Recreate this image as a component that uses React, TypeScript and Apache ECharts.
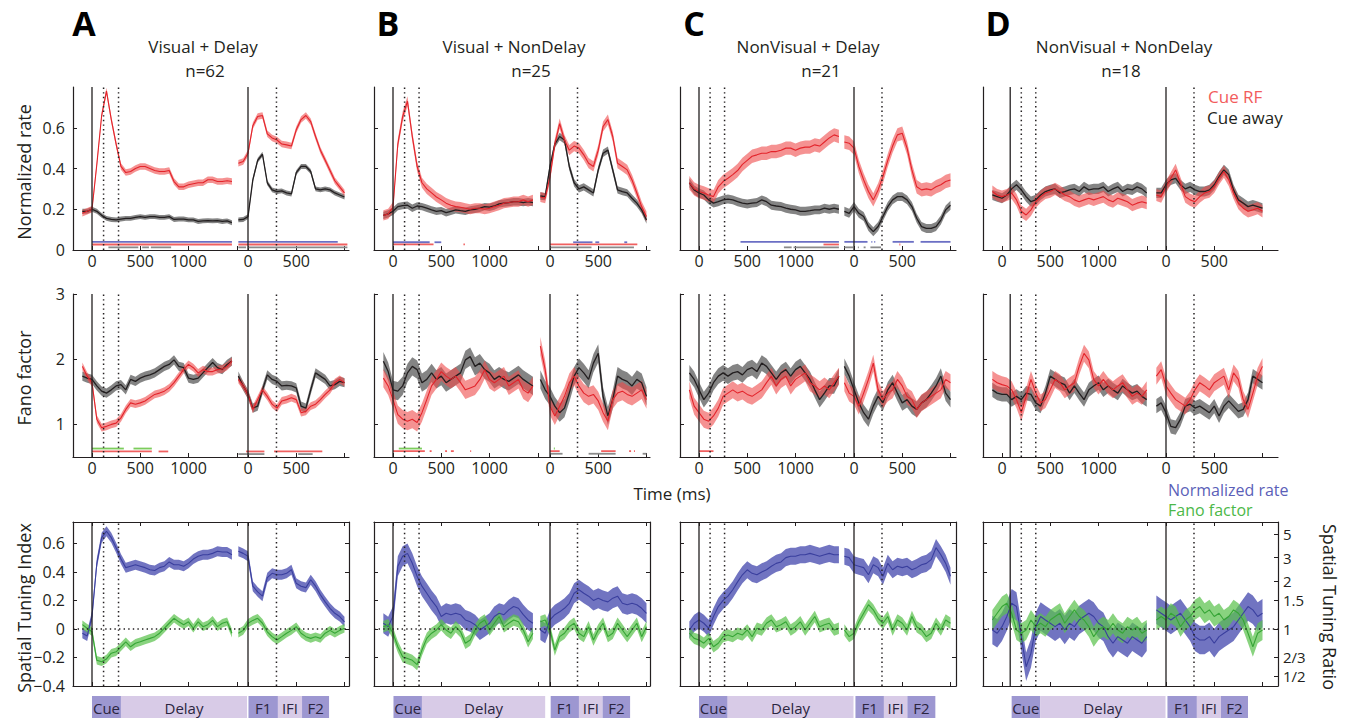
import React, { useEffect, useRef } from "react";
import * as echarts from "echarts";

const FONT = "'Open Sans', 'DejaVu Sans', sans-serif";

// ---------- time grids (ms) ----------
const T_L = [-100, -50, 0, 50, 100, 150, 200, 250, 300, 350, 400, 450, 500, 550, 600, 650, 700, 750, 800, 850, 900, 950, 1000, 1050, 1100, 1150, 1200, 1250, 1300, 1350, 1400, 1450];
const T_L_D = [-100, -50, 0, 50, 100, 150, 200, 250, 300, 350, 400, 450, 500, 550, 600, 650, 700, 750, 800, 850, 900, 950, 1000, 1050, 1100, 1150, 1200, 1250, 1300, 1350, 1400, 1450, 1500];
const T_R = [-100, -50, 0, 50, 100, 150, 200, 250, 300, 350, 400, 450, 500, 550, 600, 650, 700, 750, 800, 850, 900, 950, 1000];

// ---------- A: Visual + Delay ----------
const A_RATE_RED_L = [0.18, 0.19, 0.20, 0.42, 0.66, 0.78, 0.64, 0.52, 0.41, 0.38, 0.385, 0.40, 0.41, 0.41, 0.40, 0.39, 0.385, 0.385, 0.39, 0.336, 0.31, 0.31, 0.32, 0.325, 0.33, 0.33, 0.345, 0.345, 0.336, 0.336, 0.34, 0.336];
const A_RATE_RED_R = [0.426, 0.434, 0.475, 0.61, 0.655, 0.66, 0.57, 0.55, 0.54, 0.52, 0.516, 0.51, 0.59, 0.64, 0.66, 0.63, 0.557, 0.49, 0.44, 0.39, 0.34, 0.31, 0.28];
const A_RATE_BLK_L = [0.19, 0.19, 0.20, 0.19, 0.17, 0.155, 0.15, 0.148, 0.152, 0.155, 0.155, 0.16, 0.164, 0.16, 0.164, 0.164, 0.16, 0.16, 0.164, 0.15, 0.152, 0.152, 0.148, 0.148, 0.14, 0.143, 0.144, 0.143, 0.144, 0.14, 0.143, 0.134];
const A_RATE_BLK_R = [0.148, 0.15, 0.164, 0.344, 0.44, 0.47, 0.33, 0.295, 0.287, 0.29, 0.28, 0.275, 0.38, 0.41, 0.41, 0.385, 0.30, 0.295, 0.30, 0.295, 0.28, 0.27, 0.26];
const A_FANO_RED_L = [1.89, 1.74, 1.64, 1.08, 0.95, 0.97, 1.0, 1.02, 1.10, 1.23, 1.33, 1.31, 1.33, 1.36, 1.41, 1.46, 1.48, 1.51, 1.56, 1.64, 1.74, 1.84, 1.92, 1.87, 1.79, 1.84, 1.81, 1.81, 1.84, 1.85, 1.89, 1.97];
const A_FANO_RED_R = [1.69, 1.59, 1.46, 1.23, 1.38, 1.53, 1.43, 1.31, 1.25, 1.36, 1.38, 1.41, 1.38, 1.18, 1.20, 1.28, 1.31, 1.38, 1.46, 1.53, 1.64, 1.69, 1.64];
const A_FANO_BLK_L = [1.74, 1.71, 1.69, 1.59, 1.51, 1.48, 1.53, 1.59, 1.61, 1.53, 1.69, 1.66, 1.71, 1.74, 1.76, 1.79, 1.84, 1.89, 1.92, 1.99, 1.89, 1.87, 1.71, 1.69, 1.71, 1.79, 1.87, 1.95, 1.87, 1.84, 1.92, 1.97];
const A_FANO_BLK_R = [1.74, 1.59, 1.46, 1.25, 1.28, 1.53, 1.76, 1.69, 1.66, 1.59, 1.60, 1.59, 1.56, 1.28, 1.25, 1.53, 1.79, 1.74, 1.69, 1.59, 1.61, 1.66, 1.64];
const A_STI_BLUE_L = [-0.03, -0.05, 0.09, 0.46, 0.64, 0.685, 0.64, 0.57, 0.49, 0.43, 0.44, 0.45, 0.44, 0.43, 0.415, 0.41, 0.43, 0.44, 0.47, 0.45, 0.45, 0.44, 0.46, 0.49, 0.51, 0.52, 0.52, 0.53, 0.545, 0.54, 0.54, 0.52];
const A_STI_BLUE_R = [0.545, 0.53, 0.51, 0.30, 0.26, 0.23, 0.36, 0.39, 0.38, 0.38, 0.39, 0.415, 0.32, 0.30, 0.29, 0.345, 0.30, 0.24, 0.19, 0.145, 0.11, 0.087, 0.05];
const A_STI_GREEN_L = [0.03, 0.005, -0.02, -0.22, -0.23, -0.21, -0.17, -0.16, -0.125, -0.09, -0.125, -0.10, -0.09, -0.077, -0.066, -0.054, -0.03, 0.005, 0.04, 0.075, 0.05, 0.03, 0.05, 0.005, 0.05, 0.016, 0.03, 0.06, 0.016, 0.04, 0.05, -0.03];
const A_STI_GREEN_R = [-0.03, -0.01, 0.04, 0.06, 0.075, 0.04, -0.02, -0.054, -0.077, -0.054, -0.03, -0.01, 0.016, -0.03, -0.054, -0.066, -0.054, -0.066, -0.03, -0.01, -0.03, -0.01, 0.005];

// ---------- B: Visual + NonDelay ----------
const B_RATE_RED_L = [0.17, 0.177, 0.21, 0.52, 0.655, 0.73, 0.557, 0.41, 0.33, 0.30, 0.28, 0.26, 0.246, 0.23, 0.22, 0.213, 0.21, 0.205, 0.20, 0.205, 0.205, 0.20, 0.205, 0.213, 0.22, 0.23, 0.233, 0.237, 0.237, 0.246, 0.237, 0.246];
const B_RATE_RED_R = [0.26, 0.254, 0.36, 0.52, 0.62, 0.54, 0.49, 0.51, 0.50, 0.467, 0.426, 0.41, 0.49, 0.606, 0.64, 0.557, 0.426, 0.41, 0.393, 0.344, 0.28, 0.213, 0.164];
const B_RATE_BLK_L = [0.17, 0.177, 0.19, 0.213, 0.218, 0.22, 0.205, 0.216, 0.213, 0.205, 0.197, 0.19, 0.193, 0.183, 0.19, 0.197, 0.193, 0.19, 0.197, 0.20, 0.205, 0.213, 0.21, 0.216, 0.226, 0.23, 0.233, 0.237, 0.237, 0.233, 0.237, 0.233];
const B_RATE_BLK_R = [0.265, 0.262, 0.41, 0.52, 0.557, 0.54, 0.41, 0.33, 0.30, 0.31, 0.295, 0.28, 0.393, 0.475, 0.49, 0.393, 0.295, 0.287, 0.28, 0.254, 0.23, 0.197, 0.147];
const B_FANO_RED_L = [1.71, 1.59, 1.38, 1.15, 1.08, 1.05, 1.08, 1.03, 1.18, 1.38, 1.59, 1.69, 1.81, 1.74, 1.69, 1.74, 1.64, 1.53, 1.56, 1.59, 1.69, 1.84, 1.69, 1.64, 1.69, 1.74, 1.59, 1.64, 1.69, 1.53, 1.48, 1.59];
const B_FANO_RED_R = [2.20, 1.84, 1.28, 1.13, 1.28, 1.43, 1.64, 1.74, 1.59, 1.48, 1.43, 1.46, 1.36, 1.18, 1.05, 1.38, 1.48, 1.51, 1.46, 1.43, 1.48, 1.53, 1.38];
const B_FANO_BLK_L = [1.97, 1.81, 1.53, 1.51, 1.59, 1.79, 1.89, 1.84, 1.64, 1.69, 1.79, 1.69, 1.74, 1.64, 1.69, 1.74, 1.79, 1.99, 2.04, 1.89, 1.94, 1.84, 1.79, 1.69, 1.74, 1.69, 1.66, 1.71, 1.76, 1.69, 1.64, 1.59];
const B_FANO_BLK_R = [1.69, 1.53, 1.43, 1.28, 1.18, 1.25, 1.48, 1.74, 1.87, 1.79, 1.69, 1.94, 2.09, 1.43, 1.13, 1.38, 1.74, 1.69, 1.66, 1.59, 1.69, 1.64, 1.43];
const B_STI_BLUE_L = [0.04, 0.016, 0.09, 0.44, 0.51, 0.53, 0.46, 0.37, 0.30, 0.25, 0.20, 0.157, 0.087, 0.11, 0.10, 0.11, 0.10, 0.063, 0.05, 0.03, -0.007, 0.016, 0.04, 0.087, 0.11, 0.10, 0.134, 0.157, 0.145, 0.10, 0.063, 0.04];
const B_STI_BLUE_R = [-0.007, -0.03, 0.063, 0.10, 0.12, 0.145, 0.18, 0.25, 0.275, 0.25, 0.23, 0.20, 0.216, 0.20, 0.19, 0.216, 0.23, 0.18, 0.17, 0.18, 0.17, 0.145, 0.11];
const B_STI_GREEN_L = [0.016, 0.03, -0.03, -0.125, -0.195, -0.207, -0.22, -0.25, -0.148, -0.066, -0.03, -0.007, 0.03, -0.007, -0.03, 0.016, -0.02, -0.10, -0.077, -0.007, 0.04, 0.063, -0.007, 0.04, 0.087, 0.016, 0.04, 0.063, 0.05, -0.007, -0.09, -0.03];
const B_STI_GREEN_R = [0.05, 0.063, -0.007, -0.148, -0.054, -0.03, 0.016, 0.04, -0.03, -0.054, 0.016, -0.077, -0.007, 0.04, -0.054, -0.03, 0.04, -0.007, -0.054, -0.007, 0.04, -0.054, 0.016];

// ---------- C: NonVisual + Delay ----------
const C_RATE_RED_L = [0.33, 0.30, 0.287, 0.28, 0.27, 0.262, 0.31, 0.336, 0.352, 0.37, 0.39, 0.42, 0.44, 0.46, 0.467, 0.475, 0.475, 0.483, 0.483, 0.49, 0.50, 0.50, 0.49, 0.50, 0.505, 0.505, 0.516, 0.51, 0.53, 0.55, 0.565, 0.557];
const C_RATE_RED_R = [0.53, 0.524, 0.50, 0.41, 0.344, 0.287, 0.246, 0.295, 0.36, 0.44, 0.51, 0.565, 0.573, 0.50, 0.393, 0.31, 0.295, 0.30, 0.295, 0.31, 0.32, 0.336, 0.344];
const C_RATE_BLK_L = [0.33, 0.295, 0.28, 0.27, 0.246, 0.23, 0.237, 0.246, 0.25, 0.246, 0.237, 0.23, 0.226, 0.23, 0.233, 0.246, 0.237, 0.22, 0.216, 0.213, 0.205, 0.20, 0.197, 0.19, 0.19, 0.193, 0.197, 0.197, 0.205, 0.20, 0.205, 0.20];
const C_RATE_BLK_R = [0.19, 0.18, 0.213, 0.18, 0.164, 0.115, 0.09, 0.115, 0.164, 0.213, 0.246, 0.262, 0.262, 0.246, 0.213, 0.156, 0.115, 0.106, 0.106, 0.115, 0.147, 0.197, 0.22];
const C_FANO_RED_L = [1.53, 1.28, 1.18, 1.08, 1.05, 1.13, 1.25, 1.43, 1.48, 1.53, 1.48, 1.51, 1.46, 1.43, 1.48, 1.53, 1.64, 1.74, 1.59, 1.69, 1.74, 1.59, 1.69, 1.74, 1.79, 1.64, 1.59, 1.53, 1.59, 1.53, 1.64, 1.74];
const C_FANO_RED_R = [1.64, 1.48, 1.43, 1.28, 1.48, 1.69, 1.94, 1.53, 1.38, 1.48, 1.53, 1.69, 1.59, 1.43, 1.38, 1.23, 1.33, 1.38, 1.43, 1.48, 1.53, 1.69, 1.64];
const C_FANO_BLK_L = [1.79, 1.69, 1.53, 1.38, 1.48, 1.64, 1.74, 1.79, 1.74, 1.79, 1.81, 1.76, 1.84, 1.87, 1.81, 1.94, 1.89, 1.79, 1.69, 1.79, 1.84, 1.74, 1.84, 1.89, 1.79, 1.69, 1.53, 1.38, 1.48, 1.59, 1.59, 1.74];
const C_FANO_BLK_R = [1.89, 1.74, 1.53, 1.33, 1.18, 1.08, 1.28, 1.43, 1.33, 1.53, 1.64, 1.48, 1.33, 1.38, 1.28, 1.23, 1.33, 1.38, 1.48, 1.59, 1.74, 1.48, 1.38];
const C_STI_BLUE_L = [-0.007, 0.04, 0.063, 0.04, 0.005, 0.087, 0.157, 0.20, 0.23, 0.275, 0.33, 0.38, 0.415, 0.39, 0.38, 0.40, 0.415, 0.44, 0.46, 0.47, 0.50, 0.51, 0.51, 0.52, 0.52, 0.53, 0.52, 0.51, 0.52, 0.53, 0.52, 0.52];
const C_STI_BLUE_R = [0.51, 0.50, 0.45, 0.44, 0.43, 0.38, 0.45, 0.43, 0.37, 0.46, 0.415, 0.44, 0.43, 0.44, 0.415, 0.43, 0.45, 0.46, 0.486, 0.57, 0.52, 0.46, 0.37];
const C_STI_GREEN_L = [-0.03, -0.066, -0.077, -0.10, -0.066, -0.125, -0.10, -0.054, -0.042, -0.054, -0.03, -0.042, -0.007, -0.054, 0.005, -0.007, 0.04, 0.063, 0.016, 0.03, 0.05, -0.007, 0.016, 0.05, -0.007, 0.04, 0.087, 0.016, 0.03, 0.04, -0.007, 0.005];
const C_STI_GREEN_R = [-0.007, -0.054, -0.03, 0.05, 0.11, 0.17, 0.134, 0.075, 0.04, 0.087, -0.007, 0.063, 0.04, -0.007, 0.087, 0.016, -0.007, -0.054, -0.03, 0.04, -0.007, 0.063, 0.04];

// ---------- D: NonVisual + NonDelay ----------
const D_RATE_RED_L = [0.287, 0.27, 0.262, 0.27, 0.28, 0.246, 0.19, 0.172, 0.197, 0.237, 0.262, 0.28, 0.287, 0.30, 0.287, 0.27, 0.262, 0.246, 0.237, 0.246, 0.254, 0.246, 0.254, 0.262, 0.246, 0.237, 0.254, 0.246, 0.237, 0.22, 0.23, 0.237, 0.23];
const D_RATE_RED_R = [0.27, 0.262, 0.31, 0.352, 0.393, 0.327, 0.262, 0.246, 0.237, 0.262, 0.28, 0.287, 0.31, 0.352, 0.385, 0.344, 0.28, 0.23, 0.205, 0.19, 0.197, 0.205, 0.19];
const D_RATE_BLK_L = [0.27, 0.262, 0.254, 0.27, 0.30, 0.32, 0.295, 0.262, 0.237, 0.246, 0.27, 0.287, 0.295, 0.30, 0.28, 0.287, 0.295, 0.30, 0.287, 0.31, 0.295, 0.30, 0.30, 0.31, 0.287, 0.30, 0.31, 0.287, 0.30, 0.295, 0.31, 0.30, 0.28];
const D_RATE_BLK_R = [0.28, 0.28, 0.32, 0.344, 0.352, 0.32, 0.30, 0.31, 0.295, 0.287, 0.287, 0.295, 0.32, 0.36, 0.393, 0.37, 0.295, 0.246, 0.23, 0.213, 0.22, 0.213, 0.205];
const D_FANO_RED_L = [1.69, 1.64, 1.61, 1.59, 1.53, 1.38, 1.18, 1.43, 1.69, 1.48, 1.33, 1.38, 1.53, 1.69, 1.64, 1.53, 1.59, 1.64, 1.89, 2.09, 1.99, 1.69, 1.59, 1.69, 1.59, 1.53, 1.59, 1.64, 1.53, 1.43, 1.48, 1.43, 1.53];
const D_FANO_RED_R = [1.74, 1.84, 1.59, 1.48, 1.38, 1.33, 1.28, 1.38, 1.53, 1.64, 1.59, 1.53, 1.64, 1.69, 1.74, 1.53, 1.79, 1.69, 1.38, 1.23, 1.48, 1.74, 1.89];
const D_FANO_BLK_L = [1.53, 1.48, 1.46, 1.46, 1.38, 1.43, 1.38, 1.48, 1.46, 1.33, 1.28, 1.48, 1.74, 1.69, 1.64, 1.61, 1.48, 1.59, 1.48, 1.38, 1.53, 1.59, 1.64, 1.53, 1.59, 1.53, 1.48, 1.59, 1.53, 1.48, 1.51, 1.43, 1.38];
const D_FANO_BLK_R = [1.28, 1.33, 1.18, 0.97, 0.95, 1.08, 1.28, 1.31, 1.25, 1.28, 1.23, 1.18, 1.28, 1.13, 1.28, 1.36, 1.28, 1.20, 1.23, 1.38, 1.74, 1.69, 1.64];
const D_STI_BLUE_L = [-0.007, -0.03, 0.016, 0.087, 0.18, 0.157, -0.054, -0.265, -0.17, 0.016, 0.087, 0.063, 0.04, 0.016, 0.04, -0.007, 0.04, 0.016, 0.063, 0.087, 0.11, 0.087, 0.04, 0.016, -0.054, -0.10, -0.054, -0.077, -0.10, -0.054, -0.077, -0.10, -0.054];
const D_STI_BLUE_R = [0.134, 0.11, 0.087, 0.063, 0.087, 0.11, 0.063, 0.016, -0.054, -0.077, -0.077, -0.054, -0.10, -0.054, -0.03, -0.007, 0.016, 0.063, 0.11, 0.157, 0.134, 0.087, 0.11];
const D_STI_GREEN_L = [0.063, 0.11, 0.157, 0.18, 0.11, -0.007, -0.03, -0.007, 0.063, 0.016, 0.04, 0.016, 0.063, 0.087, 0.11, 0.04, 0.087, 0.134, 0.087, 0.063, 0.016, -0.054, -0.007, 0.016, -0.007, 0.04, -0.007, -0.03, 0.016, -0.007, 0.016, -0.03, -0.007];
const D_STI_GREEN_R = [0.063, 0.087, 0.063, 0.11, 0.087, 0.016, 0.063, 0.087, 0.134, 0.157, 0.11, 0.134, 0.087, 0.11, 0.063, 0.087, 0.134, 0.11, 0.063, -0.03, -0.125, -0.03, -0.007];

// half-widths of the shaded error bands, per column: [red, black] / [blue, green]
const SE_RATE = [[0.016, 0.012], [0.025, 0.018], [0.033, 0.022], [0.03, 0.025]];
const SE_FANO = [[0.06, 0.07], [0.14, 0.14], [0.13, 0.12], [0.13, 0.11]];
const SE_STI = [[0.035, 0.03], [0.07, 0.04], [0.06, 0.04], [0.1, 0.07]];

// significance bars: [segment, colour, y, t1, t2]
const SIG_RATE = [
  [["L", "b", 0.04, 0, 1450], ["R", "b", 0.04, -100, 930], ["L", "r", 0.027, 0, 1450], ["R", "r", 0.027, -100, 1030], ["L", "k", 0.013, 170, 480], ["L", "k", 0.013, 520, 590], ["L", "k", 0.013, 610, 820], ["R", "k", 0.013, -100, -20], ["R", "k", 0.013, 0, 1030]],
  [["L", "b", 0.038, 0, 380], ["L", "b", 0.038, 430, 500], ["R", "b", 0.038, 240, 440], ["R", "b", 0.038, 470, 510], ["R", "b", 0.038, 770, 800], ["L", "r", 0.028, 0, 420], ["L", "r", 0.028, 730, 745], ["R", "r", 0.028, 0, 905], ["R", "k", 0.013, 0, 430], ["R", "k", 0.013, 510, 870]],
  [["L", "b", 0.04, 430, 1450], ["R", "b", 0.04, -100, 140], ["R", "b", 0.04, 180, 190], ["R", "b", 0.04, 210, 220], ["R", "b", 0.04, 400, 620], ["R", "b", 0.04, 690, 1000], ["L", "r", 0.027, 1290, 1450], ["R", "r", 0.027, 470, 480], ["L", "k", 0.013, 880, 960], ["L", "k", 0.013, 980, 1450], ["R", "k", 0.013, -100, -10], ["R", "k", 0.013, 40, 50], ["R", "k", 0.013, 100, 120], ["R", "k", 0.013, 170, 280]],
  [],
];
const SIG_FANO = [
  [["L", "g", 0.63, 0, 330], ["L", "g", 0.63, 430, 620], ["L", "r", 0.585, 0, 620], ["L", "r", 0.585, 690, 790], ["R", "r", 0.585, -20, 170], ["R", "r", 0.585, 270, 770], ["R", "k", 0.545, -100, 170], ["R", "k", 0.545, 520, 670]],
  [["L", "g", 0.63, 60, 300], ["L", "r", 0.59, 0, 330], ["L", "r", 0.59, 380, 400], ["L", "r", 0.59, 540, 560], ["L", "r", 0.59, 600, 630], ["L", "r", 0.59, 800, 810], ["R", "g", 0.63, 40, 50], ["R", "r", 0.59, 0, 100], ["R", "r", 0.59, 530, 680], ["R", "r", 0.59, 820, 840], ["R", "r", 0.59, 870, 880], ["R", "k", 0.55, 0, 130], ["R", "k", 0.55, 400, 680], ["R", "k", 0.55, 960, 1000]],
  [["L", "r", 0.59, 0, 150]],
  [],
];

// task events (ms): first of each list is the solid line
const EVENTS_L = [[0, 120, 275], [0, 120, 270], [0, 115, 265], [85, 200, 350]];
const EVENTS_R = [[0, 295], [0, 285], [0, 290], [0, 290]];

// epoch bar edges per column: cue on, cue off (cue-aligned); delay end, F1 on, F1 off, F2 on, F2 off (F1-aligned)
const EPOCH_LABELS = ["Cue", "Delay", "F1", "IFI", "F2"];
const EPOCH_EDGES = [
  [0, 300, -10, 5, 310, 560, 840],
  [5, 300, -50, 7, 300, 545, 830],
  [0, 297, -5, 15, 310, 553, 843],
  [100, 395, -5, 15, 320, 570, 850],
];

// ticks
const X_TICKS_L = [0, 500, 1000, 1500];
const X_TICKS_R = [0, 500, 1000];
const X_LABELS_L = [0, 500, 1000];
const X_LABELS_R = [0, 500];
const RATE_TICKS = [0, 0.2, 0.4, 0.6];
const FANO_TICKS = [1, 2, 3];
const STI_TICKS = [-0.4, -0.2, 0, 0.2, 0.4, 0.6];
const RATIO_LABELS = ["5", "3", "2", "1.5", "1", "2/3", "1/2"];
const RATIO_VALUES = [5, 3, 2, 1.5, 1, 2 / 3, 1 / 2];

const LETTERS = ["A", "B", "C", "D"];
const TITLES = ["Visual + Delay", "Visual + NonDelay", "NonVisual + Delay", "NonVisual + NonDelay"];
const NS = ["n=62", "n=25", "n=21", "n=18"];

// ---------- layout ----------
const PX_PER_MS = 0.0965;
const COL_PX = [[73, 92, 248, 349], [374, 393, 550, 650], [680, 699, 854, 956], [983, 1002, 1166, 1278]];
const ROWS = [
  { top: 87, h: 163, min: 0, max: 0.8 },
  { top: 294, h: 163, min: 0.5, max: 3 },
  { top: 522, h: 164, min: -0.4, max: 0.75 },
];
const TITLE_X = [203, 514, 808, 1124];
const N_X = [205, 531, 821, 1121];
const LETTER_X = [84, 388, 694, 998];

const RATE = [
  [A_RATE_RED_L, A_RATE_RED_R, A_RATE_BLK_L, A_RATE_BLK_R],
  [B_RATE_RED_L, B_RATE_RED_R, B_RATE_BLK_L, B_RATE_BLK_R],
  [C_RATE_RED_L, C_RATE_RED_R, C_RATE_BLK_L, C_RATE_BLK_R],
  [D_RATE_RED_L, D_RATE_RED_R, D_RATE_BLK_L, D_RATE_BLK_R],
];
const FANO = [
  [A_FANO_RED_L, A_FANO_RED_R, A_FANO_BLK_L, A_FANO_BLK_R],
  [B_FANO_RED_L, B_FANO_RED_R, B_FANO_BLK_L, B_FANO_BLK_R],
  [C_FANO_RED_L, C_FANO_RED_R, C_FANO_BLK_L, C_FANO_BLK_R],
  [D_FANO_RED_L, D_FANO_RED_R, D_FANO_BLK_L, D_FANO_BLK_R],
];
const STI = [
  [A_STI_BLUE_L, A_STI_BLUE_R, A_STI_GREEN_L, A_STI_GREEN_R],
  [B_STI_BLUE_L, B_STI_BLUE_R, B_STI_GREEN_L, B_STI_GREEN_R],
  [C_STI_BLUE_L, C_STI_BLUE_R, C_STI_GREEN_L, C_STI_GREEN_R],
  [D_STI_BLUE_L, D_STI_BLUE_R, D_STI_GREEN_L, D_STI_GREEN_R],
];

const COLORS: any = {
  redLine: "#e3242b", redBand: "#ee4a4a",
  blkLine: "#231f20", blkBand: "#555555",
  blueLine: "#3a3f9e", blueBand: "#4d51b2",
  greenLine: "#36a536", greenBand: "#5cc24e",
};
const SIG_COLORS: any = { b: "#6b6fc4", r: "#f06060", k: "#8a8a8a", g: "#7ccc5c" };
const AXIS_COLOR = "#231f20";

function bandSeries(xi: number, yi: number, ts: number[], vs: number[], off: number, se: number, color: string, op: number) {
  const up = ts.map((t, i) => [t + off, vs[i] + se]);
  const lo = ts.map((t, i) => [t + off, vs[i] - se]).reverse();
  return {
    type: "custom", xAxisIndex: xi, yAxisIndex: yi, silent: true, clip: true, z: 2,
    data: [up[0]],
    renderItem: (_p: any, api: any) => ({
      type: "polygon",
      shape: { points: up.concat(lo).map((p) => api.coord(p)) },
      style: { fill: color, opacity: op },
    }),
  };
}

function lineSeries(xi: number, yi: number, ts: number[], vs: number[], off: number, color: string, w: number) {
  return {
    type: "line", xAxisIndex: xi, yAxisIndex: yi, silent: true, z: 3,
    showSymbol: false, symbol: "none",
    data: ts.map((t, i) => [t + off, vs[i]]),
    lineStyle: { color, width: w },
  };
}

// segments: items [x1, y1, x2, y2]
function segSeries(xi: number, yi: number, segs: number[][], style: any, z = 4) {
  return {
    type: "custom", xAxisIndex: xi, yAxisIndex: yi, silent: true, clip: false, z,
    data: segs,
    renderItem: (_p: any, api: any) => {
      const s = api.coord([api.value(0), api.value(1)]);
      const e = api.coord([api.value(2), api.value(3)]);
      return { type: "line", shape: { x1: s[0], y1: s[1], x2: e[0], y2: e[1] }, style };
    },
  };
}

function fmtY(r: number) {
  if (r === 0) return (v: number) => (Math.abs(v) < 1e-9 ? "0" : v.toFixed(1));
  if (r === 1) return (v: number) => String(Math.round(v));
  return (v: number) => (Math.abs(v) < 1e-9 ? "0" : (v < 0 ? "\u2212" : "") + Math.abs(v).toFixed(1));
}

function buildOption() {
  const grid: any[] = [];
  const xAxis: any[] = [];
  const yAxis: any[] = [];
  const series: any[] = [];
  const lineStyleAxis = { color: AXIS_COLOR, width: 1.2 };
  const ratioPos = RATIO_VALUES.map((r) => (r - 1) / (r + 1));

  for (let r = 0; r < 3; r++) {
    for (let c = 0; c < 4; c++) {
      const [start, zL, zR, end] = COL_PX[c];
      const xmin = -(zL - start) / PX_PER_MS;
      const off = (zR - zL) / PX_PER_MS;
      const xmax = (end - zL) / PX_PER_MS;
      const row = ROWS[r];
      const gi = grid.length;
      grid.push({ left: start, top: row.top, width: end - start, height: row.h });
      const xTicks = X_TICKS_L.concat(X_TICKS_R.map((t) => t + off));
      const xLabels = X_LABELS_L.concat(X_LABELS_R.map((t) => t + off));
      const xi = xAxis.length;
      xAxis.push({
        type: "value", gridIndex: gi, min: xmin, max: xmax, position: "bottom",
        axisLine: { show: true, onZero: false, lineStyle: lineStyleAxis },
        axisTick: { show: true, inside: true, length: 4, customValues: xTicks, lineStyle: { color: AXIS_COLOR, width: 1 } },
        axisLabel: {
          show: r < 2, customValues: xLabels, margin: 3, color: "#231f20", fontSize: 16, lineHeight: 16, fontFamily: FONT,
          formatter: (v: number) => String(Math.round(v > off - 300 ? v - off : v)),
        },
        splitLine: { show: false },
      });
      if (r === 2) {
        xAxis.push({
          type: "value", gridIndex: gi, min: xmin, max: xmax, position: "top",
          axisLine: { show: true, onZero: false, lineStyle: lineStyleAxis },
          axisTick: { show: true, inside: true, length: 4, customValues: xTicks, lineStyle: { color: AXIS_COLOR, width: 1 } },
          axisLabel: { show: false },
          splitLine: { show: false },
        });
      }
      const yTicks = r === 0 ? RATE_TICKS : r === 1 ? FANO_TICKS : STI_TICKS;
      const yi = yAxis.length;
      yAxis.push({
        type: "value", gridIndex: gi, min: row.min, max: row.max, position: "left",
        axisLine: { show: true, onZero: false, lineStyle: lineStyleAxis },
        axisTick: { show: true, inside: true, length: 4, customValues: yTicks, lineStyle: { color: AXIS_COLOR, width: 1 } },
        axisLabel: { show: c === 0, customValues: yTicks, margin: 8, color: "#231f20", fontSize: 16, fontFamily: FONT, formatter: fmtY(r) },
        splitLine: { show: false },
      });
      if (r === 2) {
        const rt = c === 3 ? ratioPos : STI_TICKS;
        yAxis.push({
          type: "value", gridIndex: gi, min: row.min, max: row.max, position: "right",
          axisLine: { show: true, onZero: false, lineStyle: lineStyleAxis },
          axisTick: { show: true, inside: true, length: 4, customValues: rt, lineStyle: { color: AXIS_COLOR, width: 1 } },
          axisLabel: {
            show: c === 3, customValues: ratioPos, margin: 5, color: "#231f20", fontSize: 15, lineHeight: 16, fontFamily: FONT,
            formatter: (v: number) => {
              let best = 0;
              ratioPos.forEach((p, i) => { if (Math.abs(p - v) < Math.abs(ratioPos[best] - v)) best = i; });
              return RATIO_LABELS[best];
            },
          },
          splitLine: { show: false },
        });
      }

      const tL = c === 3 ? T_L_D : T_L;
      if (r < 2) {
        const d = r === 0 ? RATE[c] : FANO[c];
        const se = r === 0 ? SE_RATE[c] : SE_FANO[c];
        series.push(bandSeries(xi, yi, tL, d[2], 0, se[1], COLORS.blkBand, 0.72));
        series.push(bandSeries(xi, yi, T_R, d[3], off, se[1], COLORS.blkBand, 0.72));
        series.push(lineSeries(xi, yi, tL, d[2], 0, COLORS.blkLine, 1.3));
        series.push(lineSeries(xi, yi, T_R, d[3], off, COLORS.blkLine, 1.3));
        series.push(bandSeries(xi, yi, tL, d[0], 0, se[0], COLORS.redBand, 0.6));
        series.push(bandSeries(xi, yi, T_R, d[1], off, se[0], COLORS.redBand, 0.6));
        series.push(lineSeries(xi, yi, tL, d[0], 0, COLORS.redLine, 1.1));
        series.push(lineSeries(xi, yi, T_R, d[1], off, COLORS.redLine, 1.1));
        const sig = r === 0 ? SIG_RATE[c] : SIG_FANO[c];
        ["b", "r", "k", "g"].forEach((col) => {
          const segs = (sig as any[]).filter((s) => s[1] === col).map((s) => {
            const o = s[0] === "R" ? off : 0;
            return [s[3] + o, s[2], s[4] + o, s[2]];
          });
          if (segs.length) series.push(segSeries(xi, yi, segs, { stroke: SIG_COLORS[col], lineWidth: 1.8 }, 5));
        });
      } else {
        const d = STI[c];
        const se = SE_STI[c];
        series.push(bandSeries(xi, yi, tL, d[0], 0, se[0], COLORS.blueBand, 0.8));
        series.push(bandSeries(xi, yi, T_R, d[1], off, se[0], COLORS.blueBand, 0.8));
        series.push(lineSeries(xi, yi, tL, d[0], 0, COLORS.blueLine, 1.1));
        series.push(lineSeries(xi, yi, T_R, d[1], off, COLORS.blueLine, 1.1));
        series.push(bandSeries(xi, yi, tL, d[2], 0, se[1], COLORS.greenBand, 0.72));
        series.push(bandSeries(xi, yi, T_R, d[3], off, se[1], COLORS.greenBand, 0.72));
        series.push(lineSeries(xi, yi, tL, d[2], 0, COLORS.greenLine, 1.1));
        series.push(lineSeries(xi, yi, T_R, d[3], off, COLORS.greenLine, 1.1));
        series.push(segSeries(xi, yi, [[xmin, 0, xmax, 0]], { stroke: "#231f20", lineWidth: 1.4, lineDash: [1.4, 3.2] }, 6));
      }
      const evL = EVENTS_L[c];
      const evR = EVENTS_R[c];
      series.push(segSeries(xi, yi, [[evL[0], row.min, evL[0], row.max], [evR[0] + off, row.min, evR[0] + off, row.max]], { stroke: "#231f20", lineWidth: 1.3 }, 6));
      const dots = evL.slice(1).map((t) => [t, row.min, t, row.max]).concat(evR.slice(1).map((t) => [t + off, row.min, t + off, row.max]));
      series.push(segSeries(xi, yi, dots, { stroke: "#231f20", lineWidth: 1.5, lineDash: [1.4, 3.2] }, 6));
    }
  }

  // epoch bars
  for (let c = 0; c < 4; c++) {
    const [start, zL, zR, end] = COL_PX[c];
    const xmin = -(zL - start) / PX_PER_MS;
    const off = (zR - zL) / PX_PER_MS;
    const xmax = (end - zL) / PX_PER_MS;
    const gi = grid.length;
    grid.push({ left: start, top: 696, width: end - start, height: 22 });
    const xi = xAxis.length;
    xAxis.push({ type: "value", gridIndex: gi, min: xmin, max: xmax, show: false });
    const yi = yAxis.length;
    yAxis.push({ type: "value", gridIndex: gi, min: 0, max: 1, show: false });
    const e = EPOCH_EDGES[c];
    const items = [
      [e[0], e[1], 0],
      [e[1], e[2] + off, 1],
      [e[3] + off, e[4] + off, 2],
      [e[4] + off, e[5] + off, 3],
      [e[5] + off, e[6] + off, 4],
    ];
    series.push({
      type: "custom", xAxisIndex: xi, yAxisIndex: yi, silent: true, clip: false,
      data: items,
      renderItem: (_p: any, api: any) => {
        const a = api.coord([api.value(0), 1]);
        const b = api.coord([api.value(1), 0]);
        const k = api.value(2);
        const dark = k % 2 === 0;
        return {
          type: "group",
          children: [
            { type: "rect", shape: { x: a[0], y: a[1], width: b[0] - a[0], height: b[1] - a[1] }, style: { fill: dark ? "#9d97d1" : "#d8cbe7" } },
            {
              type: "text", x: (a[0] + b[0]) / 2, y: (a[1] + b[1]) / 2 + 1,
              style: { text: EPOCH_LABELS[k], fill: "#2b2540", fontSize: 15, fontFamily: FONT, align: "center", verticalAlign: "middle", textAlign: "center", textVerticalAlign: "middle" },
            },
          ],
        };
      },
    });
  }

  const txt = (text: string, x: number, y: number, size: number, opts: any = {}) => ({
    type: "text", x, y, rotation: opts.rotation || 0, silent: true,
    style: {
      text, fill: opts.color || "#231f20", fontSize: size, fontFamily: FONT, fontWeight: opts.weight || "normal",
      lineHeight: Math.round(size * 1.05),
      align: opts.align || "center", verticalAlign: "middle", textAlign: opts.align || "center", textVerticalAlign: "middle",
    },
  });
  const graphic: any[] = [];
  for (let c = 0; c < 4; c++) {
    graphic.push(txt(LETTERS[c], LETTER_X[c], 23, 34, { weight: "bold", color: "#000" }));
    graphic.push(txt(TITLES[c], TITLE_X[c], 46, 17));
    graphic.push(txt(NS[c], N_X[c], 70, 17));
  }
  graphic.push(txt("Normalized rate", 24, 172, 18, { rotation: Math.PI / 2 }));
  graphic.push(txt("Fano factor", 24, 378, 18, { rotation: Math.PI / 2 }));
  graphic.push(txt("Spatial Tuning Index", 24, 608, 18, { rotation: Math.PI / 2 }));
  graphic.push(txt("Spatial Tuning Ratio", 1330, 607, 18, { rotation: -Math.PI / 2 }));
  graphic.push(txt("Time (ms)", 672, 493, 17));
  graphic.push(txt("Cue RF", 1208, 96, 17, { align: "left", color: "#f25c5c" }));
  graphic.push(txt("Cue away", 1207, 117, 17, { align: "left", color: "#231f20" }));
  graphic.push(txt("Normalized rate", 1168, 490, 16, { align: "left", color: "#5b5fb8" }));
  graphic.push(txt("Fano factor", 1168, 510, 16, { align: "left", color: "#4cb848" }));

  return { animation: false, backgroundColor: "#ffffff", grid, xAxis, yAxis, series, graphic };
}

export default function App() {
  const ref = useRef<HTMLDivElement>(null);
  useEffect(() => {
    const chart = echarts.init(ref.current as HTMLDivElement, null, { renderer: "svg" });
    chart.setOption(buildOption() as any);
    return () => chart.dispose();
  }, []);
  return <div ref={ref} style={{ position: "fixed", left: 0, top: 0, width: 1345, height: 720, background: "#fff" }} />;
}
